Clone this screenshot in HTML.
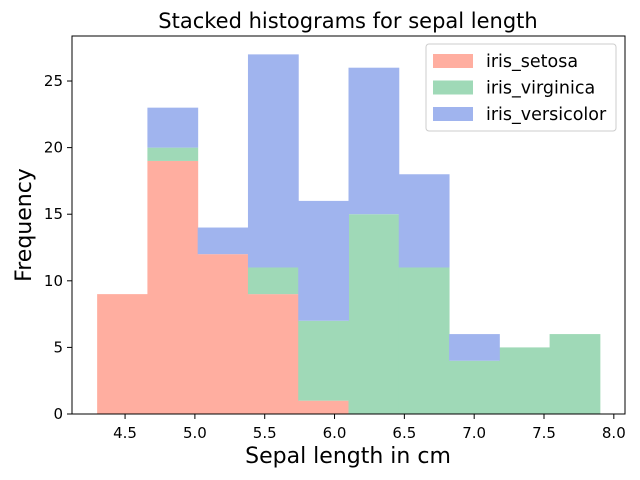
<!DOCTYPE html>
<html><head><meta charset="utf-8"><style>
body{margin:0;background:#fff;}
svg{display:block;font-family:"DejaVu Sans","Liberation Sans",sans-serif;}
</style></head><body>
<svg id="chart" width="640" height="480" viewBox="0 0 640 480" xmlns="http://www.w3.org/2000/svg">
<rect width="640" height="480" fill="#fff"/>
<text x="348" y="28" font-size="21" text-anchor="middle">Stacked histograms for sepal length</text>
<g id="bars"></g>
<rect x="72" y="36" width="553" height="378" fill="none" stroke="#000" stroke-width="1"/>
<g id="xticks"></g>
<g id="yticks"></g>
<text x="348" y="463" font-size="22" text-anchor="middle">Sepal length in cm</text>
<text transform="translate(31,225) rotate(-90)" font-size="22" text-anchor="middle">Frequency</text>
<g id="legend">
<rect x="426" y="44" width="190" height="87" rx="3" fill="#fff" fill-opacity="0.8" stroke="#ccc"/>
</g>
</svg>
<script>
const binEdges = [4.3,4.66,5.02,5.38,5.74,6.1,6.46,6.82,7.18,7.54,7.9];
const setosa = [9,19,12,9,1,0,0,0,0,0];
const virginica = [0,1,0,2,6,15,11,4,5,6];
const versicolor = [0,3,2,16,9,11,7,2,0,0];
const seriesNames = ["iris_setosa","iris_virginica","iris_versicolor"];
const xTicks = [4.5,5.0,5.5,6.0,6.5,7.0,7.5,8.0];
const yTicks = [0,5,10,15,20,25];

const NS="http://www.w3.org/2000/svg";
const colors=["#ffaea0","#9fd9b7","#a0b4ee"];
const x=v=>72+(v-4.12)/(8.08-4.12)*553;
const y=v=>414-v*(378/28.38);
function mk(t,a,p){const e=document.createElementNS(NS,t);for(const k in a)e.setAttribute(k,a[k]);p.appendChild(e);return e;}
const bars=document.getElementById('bars');
const series=[setosa,virginica,versicolor];
const base=new Array(setosa.length).fill(0);
series.forEach((s,si)=>{
  s.forEach((v,i)=>{
    if(v>0){
      const r=mk('rect',{x:x(binEdges[i]),y:y(base[i]+v),width:x(binEdges[i+1])-x(binEdges[i])+0.5,height:y(base[i])-y(base[i]+v),fill:colors[si]},bars);
      
      
    }
    base[i]+=v;
  });
});
const xt=document.getElementById('xticks');
xTicks.forEach(t=>{
  const l=mk('line',{x1:x(t),x2:x(t),y1:414,y2:419,stroke:'#000'},xt);
  
  
  const tx=mk('text',{x:x(t),y:438,'font-size':15,'text-anchor':'middle'},xt);
  
  
  tx.textContent=t.toFixed(1);
});
const yt=document.getElementById('yticks');
yTicks.forEach(t=>{
  const l=mk('line',{x1:67,x2:72,y1:y(t),y2:y(t),stroke:'#000'},yt);
  
  
  const tx=mk('text',{x:63,y:y(t)+5,'font-size':15,'text-anchor':'end'},yt);
  
  
  tx.textContent=t;
});
const lg=document.getElementById('legend');
seriesNames.forEach((n,i)=>{
  const yy=61+i*26.5;
  const r=mk('rect',{x:433,y:yy-7,width:40,height:14,fill:colors[i]},lg);
  
  
  const t=mk('text',{x:486,y:yy+6,'font-size':17.5},lg);
  
  
  t.textContent=n;
});
</script>
</body></html>
